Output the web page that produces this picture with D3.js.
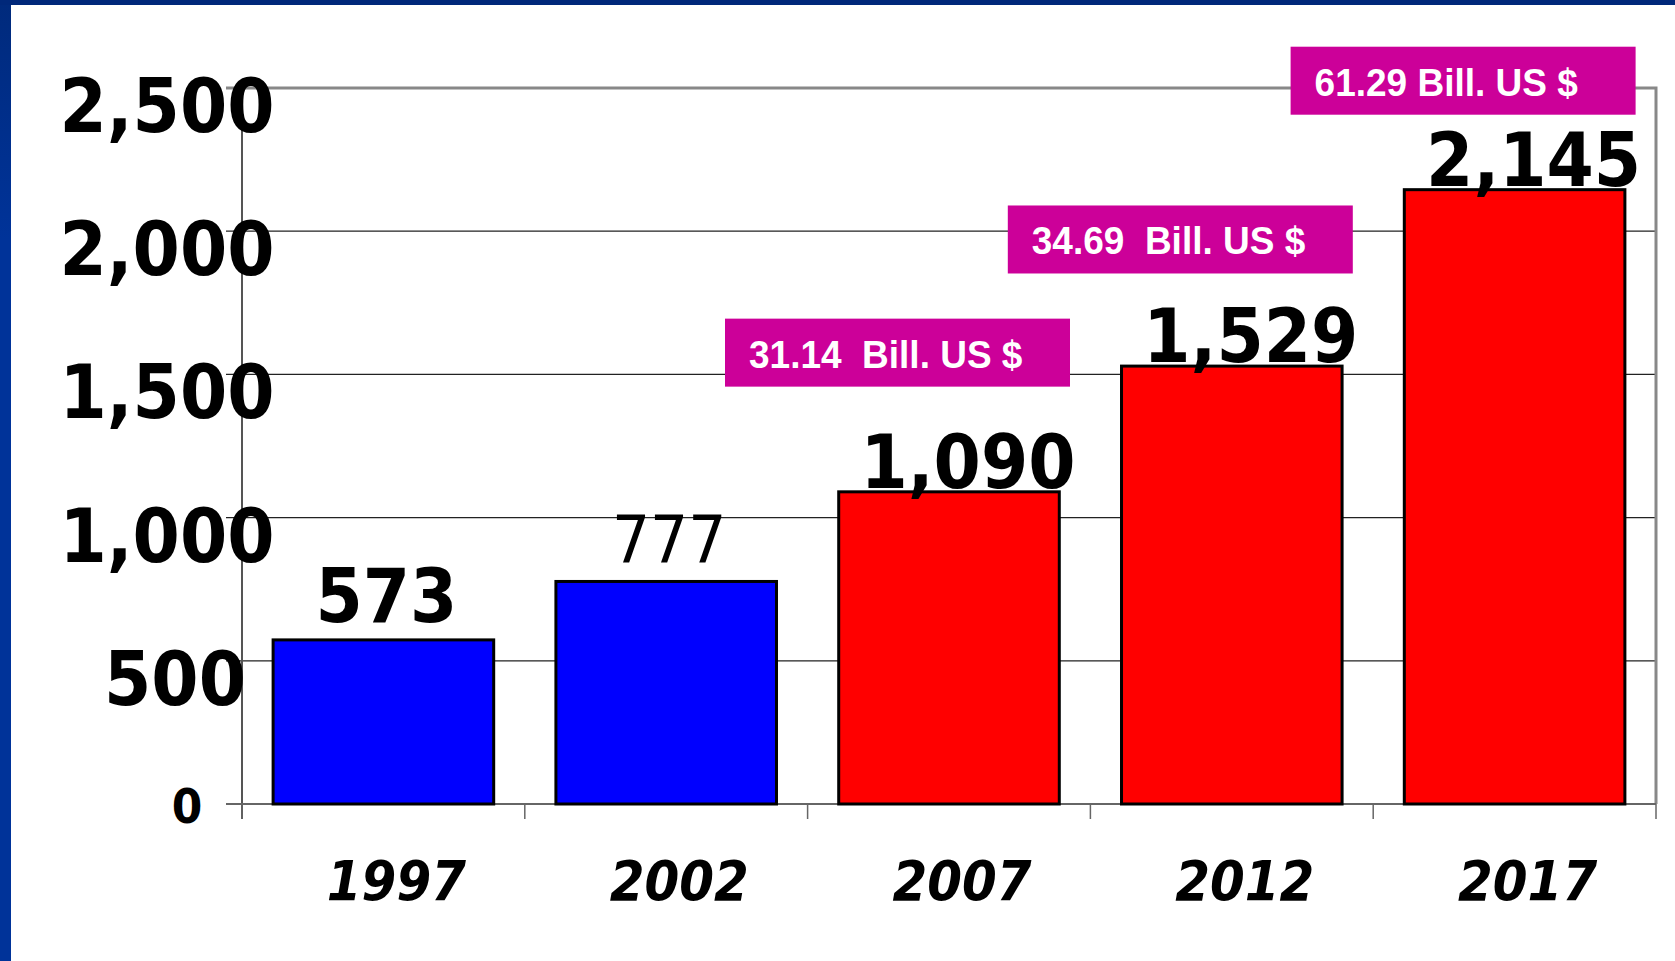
<!DOCTYPE html>
<html lang="en">
<head>
    <meta charset="UTF-8">
    <title>Bars 1997-2017</title>
    <script src="https://d3js.org/d3.v7.min.js"></script>
    <style>
        body { margin: 0; background: #fff; }
        svg { display: block; }
        text { font-family: "DejaVu Sans", Verdana, sans-serif; }
        .box-label { font-family: "Liberation Sans", Arial, sans-serif; white-space: pre; }
    </style>
</head>
<body>
<svg id="chart" width="1675" height="961"></svg>
<script>
    // Data
    const years = ["1997", "2002", "2007", "2012", "2017"];
    const values = [573, 777, 1090, 1529, 2145];
    const boxLabels = [null, null, "31.14  Bill. US $", "34.69  Bill. US $", "61.29 Bill. US $"];
    const yTicks = [0, 500, 1000, 1500, 2000, 2500];
    const plainLabelYears = ["2002"];   // this label is not bold
    const redFrom = "2007";

    const width = 1675, height = 961;
    const plot = { left: 242, right: 1656, top: 88, bottom: 804 };
    const stretch = 1.1; // text in the source is slightly tall

    const svg = d3.select("#chart");

    // frame: blue band on the left and on top
    const defs = svg.append("defs");
    const grad = defs.append("linearGradient").attr("id", "band").attr("x1", 0).attr("x2", 0).attr("y1", 0).attr("y2", 1);
    grad.append("stop").attr("offset", "0%").attr("stop-color", "#002a7c");
    grad.append("stop").attr("offset", "25%").attr("stop-color", "#003399");
    grad.append("stop").attr("offset", "100%").attr("stop-color", "#003399");
    svg.append("rect").attr("x", 0).attr("y", 0).attr("width", 11).attr("height", height).attr("fill", "url(#band)");
    svg.append("rect").attr("x", 0).attr("y", 0).attr("width", width).attr("height", 5).attr("fill", "#00287a");

    const x = d3.scaleBand()
        .domain(years)
        .range([plot.left, plot.right])
        .paddingInner(0.22)
        .paddingOuter(0.11);

    const y = d3.scaleLinear()
        .domain([0, 2500])
        .range([plot.bottom, plot.top]);

    // gridlines (inner)
    svg.append("g")
        .selectAll("line")
        .data(yTicks.filter(t => t > 0 && t < 2500))
        .join("line")
        .attr("x1", plot.left - 16).attr("x2", plot.right)
        .attr("y1", d => y(d)).attr("y2", d => y(d))
        .attr("stroke", "#222").attr("stroke-width", 1.3);

    // top and right frame of the plot area
    svg.append("path")
        .attr("d", `M${plot.left - 16},${y(2500)}H${plot.right}V${y(0)}`)
        .attr("fill", "none").attr("stroke", "#888").attr("stroke-width", 3);

    // y axis line
    svg.append("line")
        .attr("x1", plot.left).attr("x2", plot.left)
        .attr("y1", y(2500)).attr("y2", y(0) + 15)
        .attr("stroke", "#555").attr("stroke-width", 2);

    // x axis base and ticks between categories
    svg.append("line")
        .attr("x1", plot.left - 16).attr("x2", plot.right)
        .attr("y1", y(0)).attr("y2", y(0))
        .attr("stroke", "#666").attr("stroke-width", 2);
    const step = x.step();
    svg.append("g")
        .selectAll("line")
        .data(d3.range(years.length + 1))
        .join("line")
        .attr("x1", i => plot.left + i * step).attr("x2", i => plot.left + i * step)
        .attr("y1", y(0)).attr("y2", y(0) + 15)
        .attr("stroke", "#666").attr("stroke-width", 1.5);

    // bars
    const redIndex = years.indexOf(redFrom);
    svg.append("g")
        .selectAll("rect")
        .data(values)
        .join("rect")
        .attr("x", (d, i) => x(years[i]))
        .attr("y", d => y(d))
        .attr("width", x.bandwidth())
        .attr("height", d => y(0) - y(d))
        .attr("fill", (d, i) => i >= redIndex ? "#ff0000" : "#0000ff")
        .attr("stroke", "#000")
        .attr("stroke-width", 3);

    // y tick labels (the zero label is smaller)
    const fmt = d3.format(",");
    svg.append("g")
        .selectAll("text")
        .data(yTicks)
        .join("text")
        .attr("transform", d => d === 0
            ? `translate(187,${y(d) + 19}) scale(1,${stretch})`
            : `translate(${d < 1000 ? 175 : 167},${y(d) + 44}) scale(1,${stretch})`)
        .attr("text-anchor", "middle")
        .attr("font-weight", "bold")
        .attr("font-size", d => d === 0 ? 44 : 68)
        .attr("fill", "#000")
        .text(d => fmt(d));

    // x labels
    svg.append("g")
        .selectAll("text")
        .data(years)
        .join("text")
        .attr("transform", d => `translate(${x(d) + x.bandwidth() / 2 + 13},900) scale(1,${stretch})`)
        .attr("text-anchor", "middle")
        .attr("font-weight", "bold")
        .attr("font-style", "italic")
        .attr("font-size", 50)
        .attr("fill", "#000")
        .text(d => d);

    // value labels above bars
    svg.append("g")
        .selectAll("text")
        .data(values)
        .join("text")
        .attr("transform", (d, i) => `translate(${x(years[i]) + x.bandwidth() / 2 + (d >= 1000 ? 19 : 3)},${y(d) - (d >= 1000 ? 4 : 18)}) scale(1,${stretch})`)
        .attr("text-anchor", "middle")
        .attr("font-weight", (d, i) => plainLabelYears.includes(years[i]) ? "normal" : "bold")
        .attr("font-size", (d, i) => plainLabelYears.includes(years[i]) ? 60 : 68)
        .attr("fill", "#000")
        .text(d => fmt(d));

    // magenta callouts
    const boxW = 345, boxH = 68;
    const boxes = svg.append("g")
        .selectAll("g")
        .data(years.map((yr, i) => ({ yr, v: values[i], label: boxLabels[i] })).filter(d => d.label))
        .join("g")
        .attr("transform", d => `translate(${x(d.yr) + x.bandwidth() / 2 - 224},${0.9 * y(d.v) - 124})`);
    boxes.append("rect")
        .attr("width", boxW).attr("height", boxH)
        .attr("fill", "#cc0099");
    boxes.append("text")
        .attr("class", "box-label")
        .attr("transform", `translate(24,49) scale(1,1.05)`)
        .attr("font-weight", "bold")
        .attr("font-size", 37)
        .attr("fill", "#fff")
        .text(d => d.label);
</script>
</body>
</html>
